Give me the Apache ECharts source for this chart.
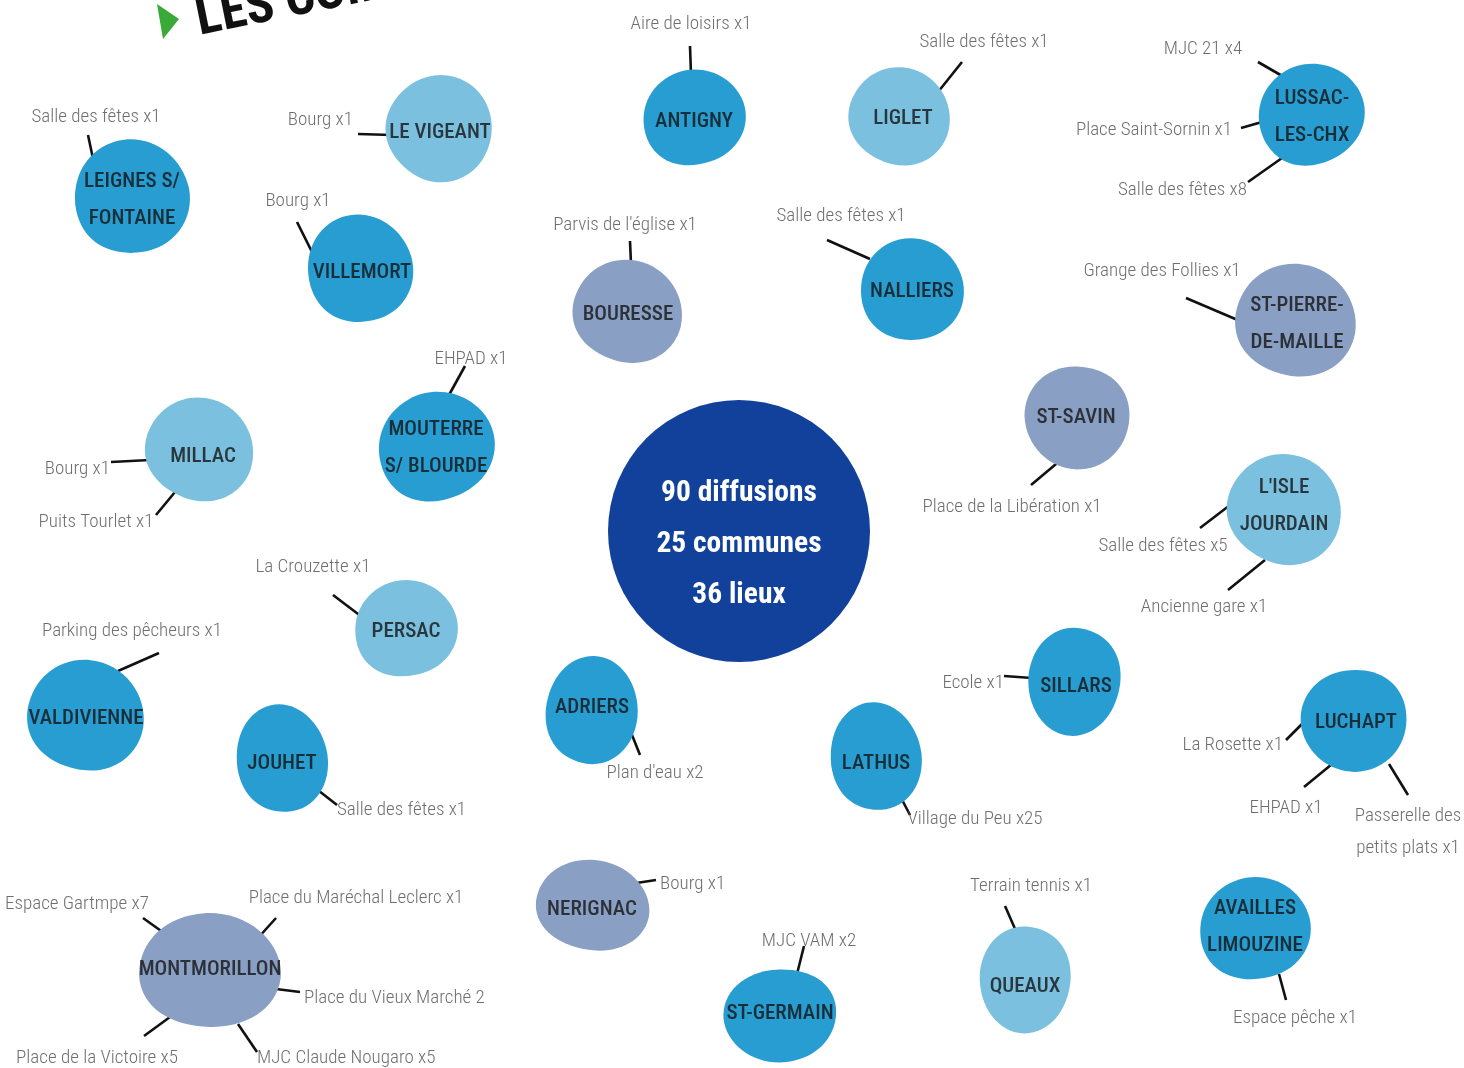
<!DOCTYPE html>
<html><head><meta charset="utf-8">
<script src="https://cdn.jsdelivr.net/npm/echarts@6/dist/echarts.min.js"></script>
<style>html,body{margin:0;padding:0;background:#fff}#c{width:1464px;height:1068px}</style>
</head><body><div id="c"></div>
<script>
// ---- data ----
const communes = ['LEIGNES S/\nFONTAINE','LE VIGEANT','VILLEMORT','ANTIGNY','LIGLET','LUSSAC-\nLES-CHX','BOURESSE','NALLIERS','ST-PIERRE-\nDE-MAILLE','MOUTERRE\nS/ BLOURDE','MILLAC','ST-SAVIN',"L'ISLE\nJOURDAIN",'PERSAC','VALDIVIENNE','JOUHET','ADRIERS','LATHUS','SILLARS','LUCHAPT','NERIGNAC','MONTMORILLON','ST-GERMAIN','QUEAUX','AVAILLES\nLIMOUZINE'];
const communeGroup = [0,1,0,0,1,0,2,0,2,0,1,2,1,1,0,0,0,0,0,0,2,2,0,1,0];
const places = [
  ['Salle des fêtes x1',0],['Bourg x1',1],['Bourg x1',2],['Aire de loisirs x1',3],['Salle des fêtes x1',4],
  ['MJC 21 x4',5],['Place Saint-Sornin x1',5],['Salle des fêtes x8',5],
  ["Parvis de l'église x1",6],['Salle des fêtes x1',7],['Grange des Follies x1',8],['EHPAD x1',9],
  ['Bourg x1',10],['Puits Tourlet x1',10],['Place de la Libération x1',11],
  ['Salle des fêtes x5',12],['Ancienne gare x1',12],['La Crouzette x1',13],['Parking des pêcheurs x1',14],
  ['Salle des fêtes x1',15],["Plan d'eau x2",16],['Village du Peu x25',17],['Ecole x1',18],
  ['La Rosette x1',19],['EHPAD x1',19],['Passerelle des\npetits plats x1',19],['Bourg x1',20],
  ['Espace Gartmpe x7',21],['Place du Maréchal Leclerc x1',21],['Place du Vieux Marché 2',21],['Place de la Victoire x5',21],['MJC Claude Nougaro x5',21],
  ['MJC VAM x2',22],['Terrain tennis x1',23],['Espace pêche x1',24]
];
const summary = ['90 diffusions','25 communes','36 lieux'];
const title = 'LES COMMUNES';

// ---- layout (positions/sizes) ----
const blobPos = [[132,196],[440,128],[360,268],[694,117],[900,116],[1311,114],[628,311],[912,289],[1296,320],[436,446],[200,449],[1077,418],[1285,509],[406,628],[86,715],[282,758],[592,710],[876,756],[1074,682],[1354,721],[593,905],[210,970],[780,1016],[1025,980],[1255,928]];
const blobSize = [[115,114],[106,106],[105,108],[103,95],[102,97],[107,100],[110,102],[103,102],[121,112],[117,108],[109,102],[105,103],[115,109],[103,96],[117,110],[91,108],[92,108],[91,108],[92,108],[106,102],[114,90],[142,114],[113,93],[91,107],[111,102]];
const blobRot = [10,-35,15,20,-20,30,-15,10,-10,25,-20,180,-25,15,-10,8,-6,6,172,190,-8,0,185,176,12];
const textPos = [[132,200],[440,133],[362,273],[694,122],[903,119],[1312,117],[628,315],[912,292],[1297,324],[436,448],[203,457],[1076,418],[1284,506],[406,632],[86,719],[282,764],[592,708],[876,764],[1076,687],[1356,723],[592,910],[210,970],[780,1014],[1025,987],[1255,927]];
const placePos = [[96,117,'center'],[353,120,'right'],[298,201,'center'],[691,24,'center'],[984,42,'center'],
  [1203,49,'center'],[1232,130,'right'],[1247,190,'right'],
  [625,225,'center'],[841,216,'center'],[1162,271,'center'],[471,359,'center'],
  [110,469,'right'],[96,522,'center'],[1012,507,'center'],
  [1163,546,'center'],[1204,607,'center'],[313,567,'center'],[132,631,'center'],
  [337,810,'left'],[655,773,'center'],[975,819,'center'],[1004,683,'right'],
  [1283,745,'right'],[1286,808,'center'],[1408,832,'center'],[660,884,'left'],
  [77,904,'center'],[356,898,'center'],[304,998,'left'],[97,1058,'center'],[257,1058,'left'],
  [809,941,'center'],[1031,886,'center'],[1295,1018,'center']];
const leaders = [[[88,135],[95,168]],[[358,134],[392,135]],[[297,222],[314,256]],[[690,46],[691,74]],[[962,62],[938,92]],
  [[1258,62],[1284,77]],[[1241,128],[1262,122]],[[1248,182],[1282,158]],
  [[630,241],[631,264]],[[827,240],[870,259]],[[1186,298],[1240,321]],[[465,366],[449,395]],
  [[111,462],[150,460]],[[156,515],[175,492]],[[1031,485],[1062,459]],
  [[1200,528],[1234,502]],[[1228,590],[1265,560]],[[333,595],[362,617]],[[159,653],[118,671]],
  [[337,805],[314,787]],[[640,755],[630,730]],[[910,815],[898,792]],[[1004,676],[1032,678]],
  [[1286,740],[1304,722]],[[1304,787],[1337,760]],[[1408,795],[1389,764]],[[656,880],[630,884]],
  [[143,918],[164,933]],[[276,918],[258,938]],[[300,992],[276,989]],[[144,1036],[170,1017]],[[257,1052],[238,1024]],
  [[804,946],[797,974]],[[1005,906],[1016,931]],[[1286,1000],[1279,974]]];

const groupColors = ['#289dd1','#7bc0df','#8a9fc4'];
const fam = 'Roboto';
const blobPath = 'path://M46,1 C74,-1 99,22 100,52 C100,80 78,100 50,99 C22,98 1,82 0,54 C0,24 20,3 46,1 Z';

const chart = echarts.init(document.getElementById('c'), null, {renderer:'canvas'});
chart.setOption({
  animation:false,
  backgroundColor:'#ffffff',
  grid:{left:0,right:0,top:0,bottom:0},
  xAxis:{type:'value',min:0,max:1464,show:false},
  yAxis:{type:'value',min:0,max:1068,inverse:true,show:false},
  graphic:[
    {type:'polygon',shape:{points:[[157,4],[179,19],[163,39]]},style:{fill:'#3aa935'},z:10},
    {type:'text',x:197,y:22,rotation:0.2,style:{text:title,font:'condensed bold 52px '+fam,fill:'#111',verticalAlign:'middle',textVerticalAlign:'middle'},z:10}
  ],
  series:[
    {type:'lines',coordinateSystem:'cartesian2d',z:1,silent:true,
     lineStyle:{color:'#111',width:2.6,opacity:1},
     data:leaders.map(c=>({coords:c}))},
    {type:'scatter',z:2,silent:true,symbol:blobPath,
     data:communes.map((n,i)=>({value:blobPos[i],symbolSize:blobSize[i],symbolRotate:blobRot[i],
        itemStyle:{color:groupColors[communeGroup[i]],opacity:1}})),
     label:{show:false}},
    {type:'scatter',z:3,silent:true,symbolSize:1,itemStyle:{color:'rgba(0,0,0,0)'},
     data:communes.map((n,i)=>({value:textPos[i],name:n})),
     label:{show:true,position:'inside',formatter:p=>p.name,color:'#141414',fontStyle:'condensed',fontWeight:500,fontFamily:fam,fontSize:21,lineHeight:37}},
    {type:'scatter',z:4,silent:true,symbolSize:262,
     data:[{value:[739,531],name:summary.join('\n')}],
     itemStyle:{color:'#11419a',opacity:1},
     label:{show:true,position:'inside',offset:[0,14],formatter:p=>p.name,color:'#fff',fontStyle:'condensed',fontFamily:fam,fontWeight:'bold',fontSize:29.5,lineHeight:51}},
    {type:'scatter',z:5,silent:true,symbolSize:1,itemStyle:{color:'rgba(0,0,0,0)'},
     data:places.map((p,i)=>({value:[placePos[i][0],placePos[i][1]],name:p[0],
        label:{align:placePos[i][2]}})),
     label:{show:true,position:'inside',formatter:p=>p.name,color:'#4a4a4a',fontStyle:'condensed',fontWeight:300,fontFamily:fam,fontSize:19,lineHeight:32,verticalAlign:'middle'}}
  ]
});
</script></body></html>
